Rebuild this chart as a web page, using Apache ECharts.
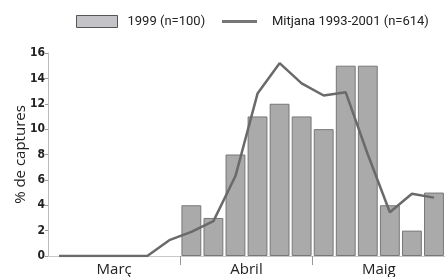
<!DOCTYPE html>
<html lang="ca">
<head>
    <meta charset="UTF-8">
    <title>Captures</title>
    <script src="https://cdn.jsdelivr.net/npm/echarts@6/dist/echarts.min.js"></script>
    <style>
        html, body { margin: 0; padding: 0; background: #fff; }
        #chart { width: 445px; height: 277px; }
    </style>
</head>
<body>
<div id="chart"></div>
<script>
    // 18 periodes de 5 dies (6 per mes)
    var periods = ['1', '2', '3', '4', '5', '6', '7', '8', '9', '10', '11', '12', '13', '14', '15', '16', '17', '18'];
    var months = ['Març', 'Abril', 'Maig'];
    var values1999 = [null, null, null, null, null, null, 4, 3, 8, 11, 12, 11, 10, 15, 15, 4, 2, 5];
    var valuesMean = [0, 0, 0, 0, 0, 1.25, 1.9, 2.75, 6.3, 12.8, 15.2, 13.6, 12.65, 12.9, 8, 3.45, 4.9, 4.6];
    var yTicks = [0, 2, 4, 6, 8, 10, 12, 14, 16];

    var name1999 = '1999 (n=100)';
    var nameMean = 'Mitjana 1993-2001 (n=614)';
    var condensed = '"DejaVu Sans Condensed", Roboto, sans-serif';

    var chart = echarts.init(document.getElementById('chart'));
    chart.setOption({
        animation: false,
        legend: [{
            data: [{ name: name1999, icon: 'rect', itemStyle: { color: '#c4c4c8', borderColor: '#555', borderWidth: 1 } }],
            left: 71,
            top: 10,
            itemWidth: 41,
            itemHeight: 12,
            textStyle: { fontFamily: 'Roboto', fontSize: 13, color: '#222', padding: [0, 0, 0, 5] }
        }, {
            data: [{ name: nameMean, icon: 'rect' }],
            left: 217,
            top: 10,
            itemWidth: 35,
            itemHeight: 3,
            itemStyle: { color: '#777' },
            textStyle: { fontFamily: 'Roboto', fontSize: 13, color: '#222', padding: [0, 0, 0, 10] }
        }],
        grid: { left: 48, right: -3, top: 53, bottom: 20 },
        xAxis: [{
            type: 'category',
            data: periods,
            boundaryGap: true,
            axisLine: { lineStyle: { color: '#c8c8c8', width: 1 } },
            axisTick: {
                show: true,
                length: 9,
                interval: function (i) { return i === 6 || i === 12; },
                lineStyle: { color: '#999' }
            },
            axisLabel: { show: false }
        }, {
            type: 'category',
            data: months,
            position: 'bottom',
            axisLine: { show: false },
            axisTick: { show: false },
            axisLabel: { margin: 6, fontFamily: 'Open Sans', fontSize: 15, color: '#222' }
        }],
        yAxis: {
            type: 'value',
            min: yTicks[0],
            max: yTicks[yTicks.length - 1],
            interval: 2,
            name: '% de captures',
            nameLocation: 'middle',
            nameGap: 20,
            nameMoveOverlap: false,
            nameTextStyle: { fontFamily: 'Open Sans', fontSize: 15, color: '#222' },
            axisLine: { show: true, lineStyle: { color: '#bbb' } },
            axisTick: { show: true, length: 3, lineStyle: { color: '#999' } },
            axisLabel: { margin: 3, fontFamily: condensed, fontWeight: 'bold', fontSize: 12, color: '#222' },
            splitLine: { show: false }
        },
        series: [{
            name: name1999,
            type: 'bar',
            data: values1999,
            barCategoryGap: '10%',
            itemStyle: { color: '#aaaaaa', borderColor: '#777', borderWidth: 1 }
        }, {
            name: nameMean,
            type: 'line',
            data: valuesMean,
            symbol: 'none',
            lineStyle: { color: '#6a6a6a', width: 2.5 },
            itemStyle: { color: '#777' }
        }]
    });
</script>
</body>
</html>
